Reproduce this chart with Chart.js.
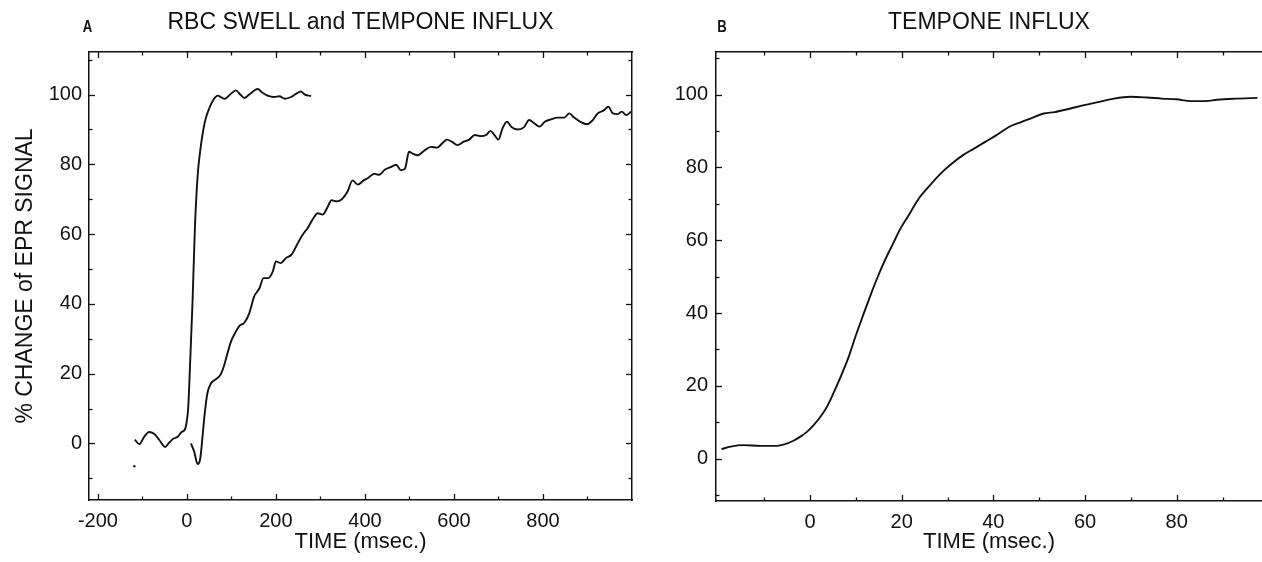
<!DOCTYPE html>
<html><head><meta charset="utf-8">
<script src="https://cdn.jsdelivr.net/npm/chart.js@4.4.1/dist/chart.umd.min.js"></script>
<style>
html,body{margin:0;padding:0;background:#fff;}
#wrapA{position:absolute;left:0;top:0;width:660px;height:562px;}
#wrapB{position:absolute;left:660px;top:0;width:602px;height:562px;}
canvas{display:block;}
</style></head><body>
<div id="wrapA"><canvas id="cA" width="660" height="562"></canvas></div>
<div id="wrapB"><canvas id="cB" width="602" height="562"></canvas></div>
<script>
// ---------- DATA ----------
// Panel A: RBC swell (fast trace)
const swellTime = [-117,-107,-96,-85,-73,-62,-49,-40,-30,-21,-12,-4.5,0,3,7.5,12.7,18,24,30,40,50,61,69,76,85,97,110,120,129,140,159,170,181,196,208,220,234,245,256,265,279];
const swellPct  = [1.1,-0.2,1.9,3.3,2.7,1.0,-1.0,0.2,1.4,1.9,3.3,4.0,6.7,10.5,24,41,62,76.6,84,92,96,98.8,99.7,99.3,98.8,100,101.2,100,99,100,101.6,100.5,99.7,99.3,99.5,98.8,99.3,100.2,100.9,100,99.6];
// Panel A: Tempone influx (slow trace)
const influxTimeA = [9,16.5,24,30,35,40,46,54,65,75,84,91,99,108,118,129,140,151,163,172,183,193,200,211,222,235,247,260,271,282,294,305,315,325,337,348,361,372,384,397,407,421,432,445,458,470,481,490,499,507,518,533,548,562,575,584,595,608,622,634,647,661,672,682,691,700,709,719,730,743,757,769,781,792,804,818,833,848,859,870,884,899,912,923,936,947,957,968,977,987,998];
const influxPctA  = [0,-2.4,-5.9,-4.3,1.9,8.6,14.4,17.2,18.4,19.6,22.5,25.8,29.2,31.6,33.7,34.6,37.3,42.1,44.5,47.4,47.4,49.3,52.2,51.7,53.1,54.1,56.9,59.8,61.7,64.1,66,65.6,67.5,69.7,69.4,70,72.2,75.4,74.2,75.4,76.1,77.3,77,78.5,79.2,79.9,78.3,78.8,83.6,83.1,82.6,83.9,85,84.8,86.2,87.1,86.5,85.5,86.5,87.1,88.4,88.1,88.4,89.6,88.4,87.1,90.3,92.2,90.6,90,90.6,92.7,91.7,90.8,92.2,92.9,93.4,93.4,94.6,93.4,92.2,91.5,92.7,94.6,95.4,96.5,94.6,94.4,95.1,94.1,95.1];
// stray speck in panel A
const speckTime = [-118];
const speckPct  = [-6.5];
// Panel B: Tempone influx (expanded time)
const influxTimeB = [-19.3,-17.3,-14.5,-10.8,-7.2,-5.6,-3.6,-2.0,-0.8,0.8,2.0,3.6,5.2,6.8,8.4,10.0,11.6,13.3,14.9,16.5,18.1,19.7,21.7,23.7,26.1,28.5,30.9,33.3,35.7,38.2,40.6,43.4,46.2,48.6,51.0,53.4,56.6,59.8,63.1,66.3,69.9,73.5,76.7,79.9,83.1,86.3,88.8,92.8,97.6];
const influxPctB  = [2.6,3.3,3.7,3.5,3.5,3.9,4.9,6.1,7.2,9.2,11.0,14.0,18.2,22.8,27.8,33.8,39.4,45.2,50.3,54.9,59.0,63.1,67.2,71.4,75.0,78.3,81.0,83.3,85.1,87.0,88.8,91.1,92.5,93.7,94.8,95.2,96.1,97.1,98.0,98.9,99.4,99.2,98.9,98.7,98.2,98.2,98.6,98.9,99.1];

// tick labels
const xTickLabelsA = [-200,0,200,400,600,800];
const xTickLabelsB = [0,20,40,60,80];
const yTickLabels  = [0,20,40,60,80,100];
// tick mark positions (major = labelled, minor in between)
const xMarksA = [-200,-100,0,100,200,300,400,500,600,700,800,900];
const xMarksB = [-10,0,10,20,30,40,50,60,70,80,90];
const yMarks  = [-10,0,10,20,30,40,50,60,70,80,90,100,110];

// text
const titleA = 'RBC SWELL and TEMPONE INFLUX';
const titleB = 'TEMPONE INFLUX';
const yTitle = '% CHANGE of EPR SIGNAL';
const xTitle = 'TIME (msec.)';

// ---------- STYLE / HELPERS ----------
const FONT = "'Liberation Sans', Arial, Helvetica, sans-serif";
const INK = '#111';
Chart.defaults.font.family = FONT;
Chart.defaults.color = INK;

const toXY = (xs, ys) => xs.map((x, i) => ({x, y: ys[i]}));

const inwardTicks = {
  id: 'inwardTicks',
  afterDraw(chart, args, opts) {
    const {ctx, chartArea: a} = chart;
    ctx.save();
    ctx.strokeStyle = INK;
    ctx.lineWidth = 1.3;
    for (const m of opts.marks) {
      const s = chart.scales[m.axis];
      for (const v of m.values) {
        const len = m.major.includes(v) ? 6 : 3.5;
        const p = Math.round(s.getPixelForValue(v)) + 0.5;
        ctx.beginPath();
        if (m.side === 'bottom') { ctx.moveTo(p, a.bottom); ctx.lineTo(p, a.bottom - len); }
        else if (m.side === 'top') { ctx.moveTo(p, a.top); ctx.lineTo(p, a.top + len); }
        else if (m.side === 'left') { ctx.moveTo(a.left, p); ctx.lineTo(a.left + len, p); }
        else if (m.side === 'right') { ctx.moveTo(a.right, p); ctx.lineTo(a.right - len, p); }
        ctx.stroke();
      }
    }
    ctx.restore();
  }
};

const panelLetter = {
  id: 'panelLetter',
  afterDraw(chart, args, o) {
    const ctx = chart.ctx;
    ctx.save();
    ctx.font = "bold 16px 'Liberation Sans Narrow', 'Liberation Sans', sans-serif";
    ctx.fillStyle = INK;
    ctx.textAlign = 'center';
    ctx.textBaseline = 'alphabetic';
    const x = chart.chartArea.left + o.dx;
    ctx.translate(x, 32);
    ctx.scale(0.82, 1);
    ctx.fillText(o.text, 0, 0);
    ctx.restore();
  }
};

function lineDS(data, width) {
  return {data, borderColor: INK, borderWidth: width, pointRadius: 0, fill: false,
          cubicInterpolationMode: 'monotone', showLine: true};
}
const border = {display: true, color: INK, width: 1.5};
const hiddenAxis = (pos, min, max, fitProp) => ({
  type: 'linear', position: pos, min, max,
  grid: {display: false, drawTicks: false},
  border,
  ticks: {display: false},
  afterFit: s => { s[fitProp] = 0; }
});

function makeChart(canvas, cfg) {
  const yAxis = {
    type: 'linear', position: 'left', min: cfg.yMin, max: cfg.yMax,
    afterBuildTicks: s => { s.ticks = yTickLabels.map(v => ({value: v})); },
    afterFit: s => { s.width = cfg.yWidth; },
    grid: {drawOnChartArea: false, drawTicks: false},
    border,
    ticks: {font: {size: 20}, padding: cfg.yPad, autoSkip: false, color: INK},
    title: cfg.yTitle ? {display: true, text: cfg.yTitle, font: {size: 23, lineHeight: 1.2},
                         padding: {top: 12.2, bottom: 0}, color: INK} : {display: false}
  };
  const xAxis = {
    type: 'linear', position: 'bottom', min: cfg.xMin, max: cfg.xMax,
    afterBuildTicks: s => { s.ticks = cfg.xLabels.map(v => ({value: v})); },
    afterFit: s => { s.height = cfg.xHeight; },
    grid: {drawOnChartArea: false, drawTicks: false},
    border,
    ticks: {font: {size: 20}, padding: 9, autoSkip: false, maxRotation: 0, minRotation: 0, color: INK},
    title: {display: true, text: xTitle, font: {size: 22, lineHeight: 1.2},
            padding: {top: 0, bottom: 7}, color: INK}
  };
  const scales = {x: xAxis, y: yAxis, xTop: hiddenAxis('top', cfg.xMin, cfg.xMax, 'height')};
  const marks = [
    {axis: 'x', side: 'bottom', values: cfg.xMarks, major: cfg.xLabels},
    {axis: 'x', side: 'top', values: cfg.xMarks, major: cfg.xLabels},
    {axis: 'y', side: 'left', values: yMarks, major: yTickLabels}
  ];
  if (cfg.rightBox) {
    scales.yRight = hiddenAxis('right', cfg.yMin, cfg.yMax, 'width');
    marks.push({axis: 'y', side: 'right', values: yMarks, major: yTickLabels});
  }
  return new Chart(canvas, {
    type: 'line',
    data: {datasets: cfg.datasets},
    plugins: [inwardTicks, panelLetter],
    options: {
      responsive: false, animation: false, devicePixelRatio: 1,
      layout: {padding: {left: 0, right: cfg.padRight, top: 0, bottom: 0}},
      scales,
      plugins: {
        legend: {display: false},
        tooltip: {enabled: false},
        title: {display: true, text: cfg.title, fullSize: false, color: INK,
                font: {size: 23, weight: 'normal', lineHeight: 1.2},
                padding: {top: 9, bottom: 15.4}},
        inwardTicks: {marks},
        panelLetter: {text: cfg.letter, dx: cfg.letterDx}
      }
    }
  });
}

makeChart(document.getElementById('cA'), {
  title: titleA, letter: 'A', letterDx: -1.5,
  xMin: -220, xMax: 1000, yMin: -16.2, yMax: 112.2,
  xLabels: xTickLabelsA, xMarks: xMarksA,
  yWidth: 89, yPad: 7, xHeight: 62, padRight: 28, rightBox: true,
  yTitle: yTitle,
  datasets: [
    lineDS(toXY(swellTime, swellPct), 1.9),
    lineDS(toXY(influxTimeA, influxPctA), 1.9),
    {data: toXY(speckTime, speckPct), showLine: false, pointRadius: 1.2,
     pointBackgroundColor: INK, pointBorderWidth: 0}
  ]
});

makeChart(document.getElementById('cB'), {
  title: titleB, letter: 'B', letterDx: 6,
  xMin: -20.5, xMax: 98.6, yMin: -11.65, yMax: 111.7,
  xLabels: xTickLabelsB, xMarks: xMarksB,
  yWidth: 56, yPad: 8, xHeight: 61, padRight: 0, rightBox: false,
  yTitle: null,
  datasets: [
    lineDS(toXY(influxTimeB, influxPctB), 1.9)
  ]
});
</script></body></html>
